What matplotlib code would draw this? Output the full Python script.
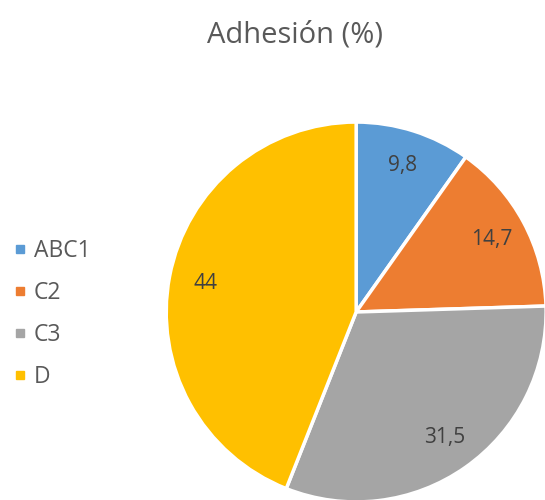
import matplotlib
matplotlib.use('Agg')
import matplotlib.pyplot as plt
from matplotlib.lines import Line2D

categories = ['ABC1', 'C2', 'C3', 'D']
values = [9.8, 14.7, 31.5, 44]
value_labels = ['9,8', '14,7', '31,5', '44']
colors = ['#5B9BD5', '#ED7D31', '#A5A5A5', '#FFC000']

plt.rcParams['font.family'] = ['Open Sans', 'DejaVu Sans']
text_color = '#595959'

fig = plt.figure(figsize=(5.45, 5.0), dpi=100)
ax = fig.add_axes([0.305, -0.004, 0.697, 0.76])

wedges, texts, autotexts = ax.pie(
    values, colors=colors, startangle=90, counterclock=False,
    autopct='%1.1f', pctdistance=0.81,
    wedgeprops=dict(edgecolor='white', linewidth=2.5),
)
for t, lab in zip(autotexts, value_labels):
    t.set_text(lab)
    t.set_color('#404040')
    t.set_fontsize(15)
for w in wedges:
    w.set_clip_on(False)
ax.set_xlim(-1, 1)
ax.set_ylim(-1, 1)
ax.set_aspect('equal')
ax.axis('off')

fig.text(0.542, 0.93, 'Adhesión (%)', ha='center', va='center',
         fontsize=21, color=text_color)

handles = [Line2D([], [], marker='s', linestyle='none', markersize=6,
                  markerfacecolor=c, markeredgecolor=c) for c in colors]
fig.legend(handles, categories, loc='center left',
           bbox_to_anchor=(-0.012, 0.372), frameon=False, fontsize=16.5,
           labelcolor=text_color, handlelength=0.5, handletextpad=0.35,
           labelspacing=0.78)

plt.savefig('out.png', dpi=100)
